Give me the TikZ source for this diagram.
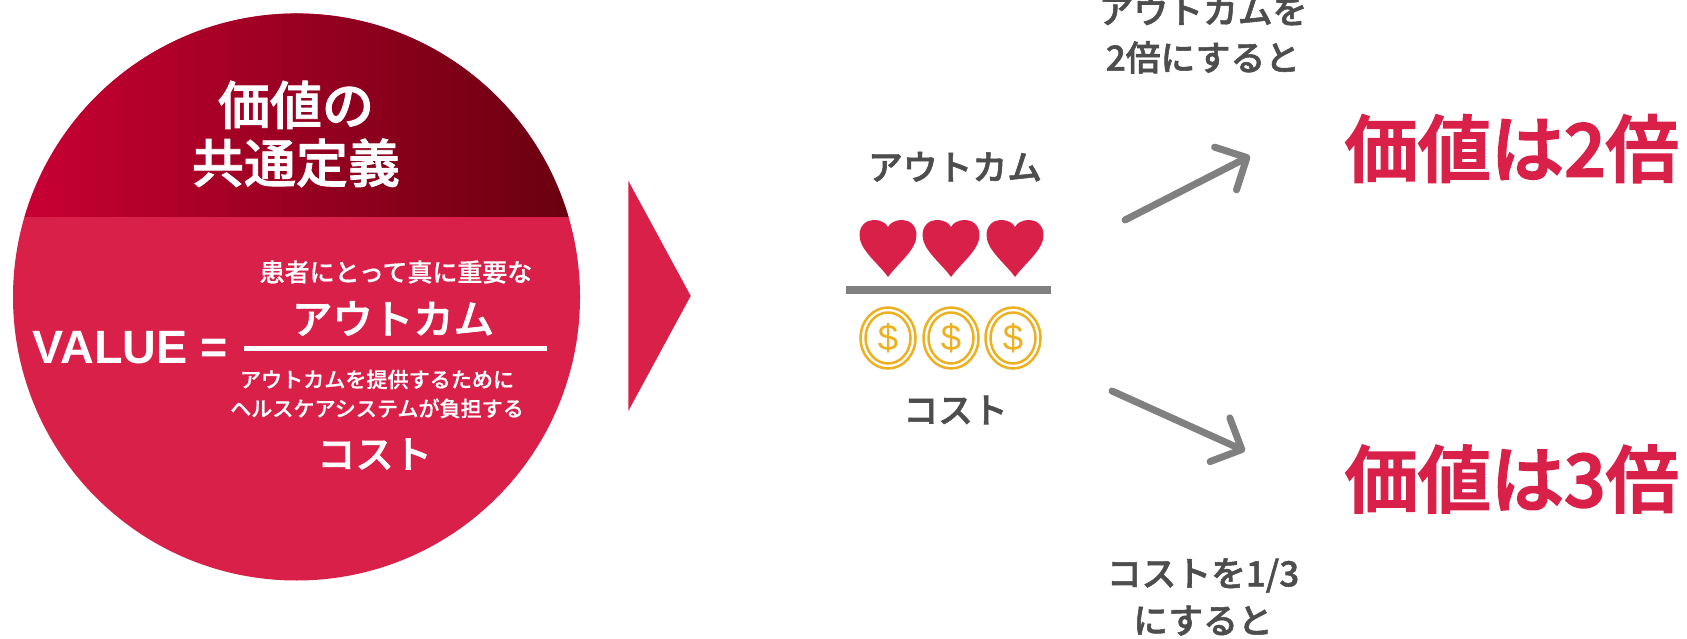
\documentclass[tikz,border=0pt]{standalone}
\usepackage{fontspec}
\usetikzlibrary{arrows.meta}
\setmainfont{Noto Sans CJK JP}
\newfontfamily\jpmedium{Noto Sans CJK JP Medium}[FakeBold=.6]
\newfontfamily\jpheavy{Noto Sans CJK JP Medium}[FakeBold=1.6]
\newfontfamily\jpresult{Noto Sans CJK JP Medium}[FakeBold=2.6]
\newfontfamily\latinfont{Liberation Sans}

\definecolor{valuered}{HTML}{D92049}
\definecolor{darkred}{HTML}{6A0010}
\definecolor{lightred}{HTML}{C80033}
\definecolor{coinyellow}{HTML}{EDB021}
\definecolor{textgray}{HTML}{4D4D4D}
\definecolor{linegray}{HTML}{808080}

\newcommand{\fsz}[2]{\fontsize{#1}{#2}\selectfont}

\tikzset{
	whitetext/.style={text=white, inner sep=0, align=center},
	graytext/.style={text=textgray, inner sep=0, align=center, font=\jpheavy\fsz{9.9}{13.4}},
	resulttext/.style={text=valuered, inner sep=0, anchor=west, font=\jpresult\fsz{20.8}{24}},
	bigarrow/.style={draw=linegray, line width=.07cm, line cap=round, -{Straight Barb[round, length=.24cm, width=.48cm]}},
}

\begin{document}
\begin{tikzpicture}
	\useasboundingbox (0, 0) rectangle (16.87, 6.38);

	% circle
	\fill[valuered] (2.965, 3.41) circle (2.835);
	\shade[left color=lightred, right color=darkred] (5.685, 4.21) arc (16.39:163.61:2.835) -- cycle;
	\node[whitetext, font=\jpheavy\fsz{14.8}{16.5}] (title) at (2.96, 5.04) {価値の\\共通定義};
	\node[whitetext, font=\jpmedium\fsz{7.1}{9}] (patient) at (3.96, 3.66) {患者にとって真に重要な};
	\node[whitetext, font=\jpheavy\fsz{11.5}{13}] (outcome) at (3.93, 3.195) {アウトカム};
	\node[whitetext, anchor=west, font=\latinfont\bfseries\fsz{13.3}{15}] (value) at (.32, 2.905) {VALUE =};
	\fill[white] (2.44, 2.867) rectangle (5.466, 2.921);
	\node[whitetext, font=\jpmedium\fsz{6}{8.25}] (system) at (3.77, 2.44) {アウトカムを提供するために\\ヘルスケアシステムが負担する};
	\node[whitetext, font=\jpheavy\fsz{10.9}{12}] (cost) at (3.745, 1.84) {コスト};

	\fill[valuered] (6.283, 4.572) -- (6.907, 3.421) -- (6.283, 2.27) -- cycle;

	% fraction with hearts and coins
	\node[graytext] (outcomelabel) at (9.55, 4.712) {アウトカム};
	\foreach \x in {8.88, 9.51, 10.15} {
		\fill[valuered, shift={(\x, 3.61)}] (0, 0) .. controls (-.1, .14) and (-.285, .27) .. (-.285, .42)
			.. controls (-.285, .52) and (-.21, .57) .. (-.145, .57)
			.. controls (-.07, .57) and (-.02, .54) .. (0, .50)
			.. controls (.02, .54) and (.07, .57) .. (.145, .57)
			.. controls (.21, .57) and (.285, .52) .. (.285, .42)
			.. controls (.285, .27) and (.1, .14) .. (0, 0) -- cycle;
	}
	\fill[linegray] (8.46, 3.44) rectangle (10.51, 3.52);
	\foreach \x/\n in {8.88/a, 9.51/b, 10.13/c} {
		\draw[coinyellow, line width=.025cm] (\x, 3.0) ellipse (.275 and .305);
		\draw[coinyellow, line width=.025cm] (\x, 3.0) ellipse (.225 and .255);
		\node[inner sep=0, text=coinyellow, font=\latinfont\fsz{10.4}{11}] (coin\n) at (\x, 3.0) {\$};
	}
	\node[graytext] (costlabel) at (9.555, 2.28) {コスト};

	% arrows
	\coordinate (uptail) at (11.25, 4.18);
	\coordinate (uptip) at (12.5, 4.82);
	\coordinate (downtail) at (11.12, 2.47);
	\coordinate (downtip) at (12.45, 1.87);
	\draw[bigarrow] (uptail) -- (uptip);
	\draw[bigarrow] (downtail) -- (downtip);

	\node[graytext] (doublenote) at (12.03, 6.035) {アウトカムを\\2倍にすると};
	\node[graytext] (thirdnote) at (12.03, .41) {コストを1/3\\にすると};
	\node[resulttext] (doubleresult) at (13.44, 4.894) {価値は2倍};
	\node[resulttext] (tripleresult) at (13.44, 1.59) {価値は3倍};
\end{tikzpicture}
\end{document}
